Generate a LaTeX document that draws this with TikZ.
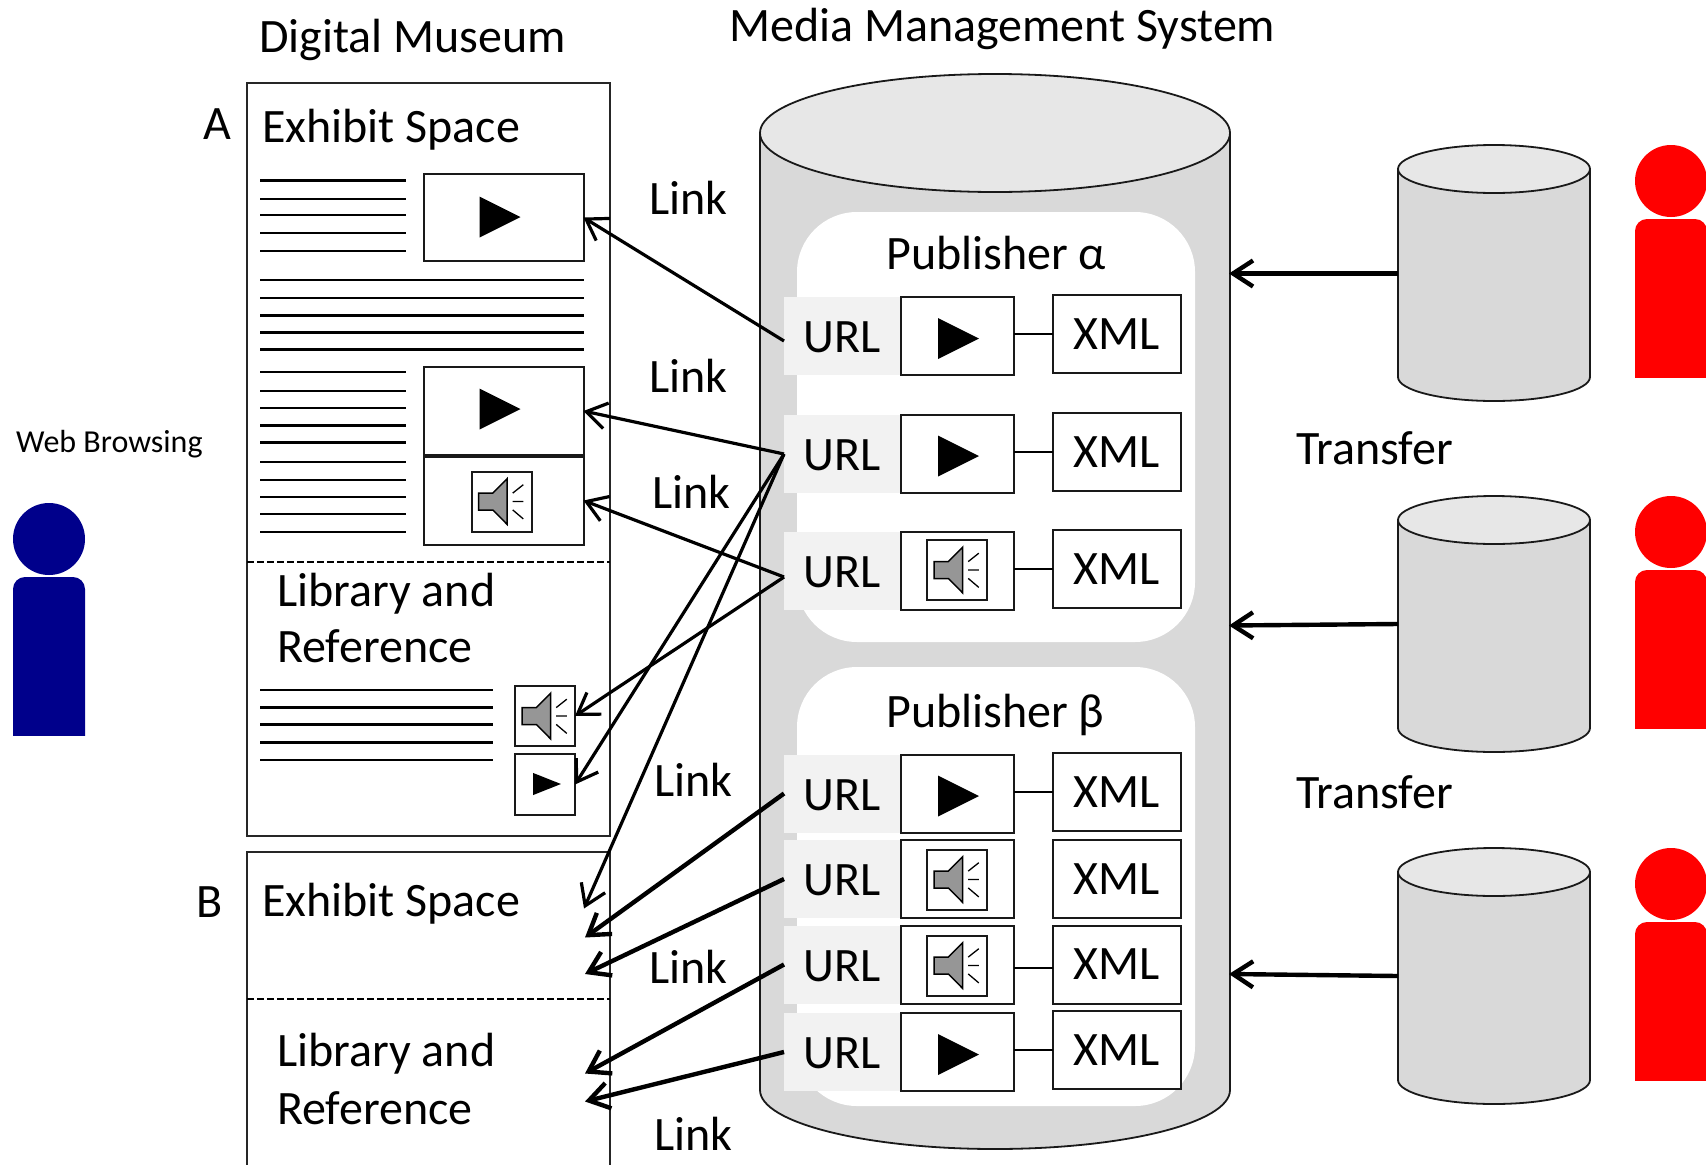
\documentclass[tikz,border=0pt]{standalone}
\usepackage{fontspec}
\setmainfont{Carlito}
\usepackage{xcolor}
\usetikzlibrary{arrows.meta}
\definecolor{drumbody}{RGB}{217,217,217}
\definecolor{drumtop}{RGB}{231,231,231}
\definecolor{urlcell}{RGB}{242,242,242}
\definecolor{speakergray}{RGB}{150,150,150}
\definecolor{visitorblue}{RGB}{0,0,139}

% cylinder: x, y of the left end of the top ellipse, height, radii
\newcommand{\drum}[5]{%
  \draw[drumline,fill=drumbody] (#1,#2) -- ++(0,#3) arc[start angle=180,end angle=0,x radius=#4,y radius=#5] -- ++(0,-#3) -- cycle;
  \draw[drumline,fill=drumtop] (#1+#4,#2) ellipse[x radius=#4,y radius=#5];
}

\tikzset{
  drumline/.style={line width=1.8pt,draw=black!90},
  txt/.style={font=\fontsize{48}{48}\selectfont,anchor=base west,inner sep=0pt},
  pagebox/.style={draw=black!85,line width=1.8pt,inner sep=0pt,outer sep=0pt,minimum width=363},
  mediabox/.style={draw=black!90,fill=white,line width=2pt,inner sep=0pt,outer sep=0pt},
  urlbox/.style={fill=urlcell,inner sep=0pt,outer sep=0pt,minimum width=116,minimum height=78,font=\fontsize{48}{48}\selectfont,text height=33pt,text depth=0pt},
  xmlbox/.style={mediabox,minimum width=128,minimum height=78,font=\fontsize{48}{48}\selectfont},
  panel/.style={fill=white,rounded corners=60pt},
  dashline/.style={line width=2pt,dash pattern=on 7pt off 3pt},
  textline/.style={line width=2.3pt},
  wire/.style={line width=2.2pt},
  linkarrow/.style={-{Straight Barb[length=20pt,width=26pt]},line width=3.2pt},
  heavyarrow/.style={-{Straight Barb[length=20pt,width=26pt]},line width=4.4pt},
  speaker/.pic={
    \draw[mediabox] (-30,-30) rectangle (30,30);
    \draw[line width=1.5pt,fill=speakergray] (-22.8,-8.5) -- (-8.6,-8.5) -- (5.6,-22.8) -- (5.6,22.8) -- (-8.6,8.5) -- (-22.8,8.5) -- cycle;
    \draw[line width=1.3pt] (11.2,-8.4) -- (21.8,-16.8) (11.2,0) -- (21.8,0) (11.2,8.4) -- (21.8,17.4);
  },
  playmark/.pic={\fill (-20.5,-20.5) -- (20.5,0) -- (-20.5,20.5) -- cycle;},
  person/.pic={
    \fill (0,0) circle[radius=36];
    \fill[rounded corners=12pt] (-36,240) -- (-36,38) -- (36,38) -- (36,240) -- cycle;
  }
}

\begin{document}
\begin{tikzpicture}[x=1pt,y=-1pt]
\path[use as bounding box,clip] (0,0) rectangle (1706,1165);

% Titles
\node[txt] (titleMuseum) at (259,52) {Digital Museum};
\node[txt] (titleMedia) at (729,41) {Media Management System};
\node[txt] (labelA) at (203,139) {A};
\node[txt] (labelB) at (196,917) {B};

% Visitor
\begin{scope}
\clip (0,500) rectangle (100,735.5);
\pic[visitorblue] at (49,539) {person};
\end{scope}
\node[txt,font=\fontsize{32}{32}\selectfont] (labelBrowsing) at (16,452) {Web Browsing};

% === Museum A ===
\node[pagebox,minimum height=753] (boxA) at (428.5,459.5) {};
\draw[dashline] (boxA.west |- 0,562) -- (boxA.east |- 0,562);
\node[txt] (spaceA) at (262,142) {Exhibit Space};
\node[txt] (libraryA) at (277,606) {Library and};
\node[txt] (referenceA) at (277,662) {Reference};
\foreach \y in {180.5,198.7,215.3,233,250.8,372,390.7,407.7,425.4,442.5,462,480,497,514,532}
    \draw[textline] (260,\y) -- (406,\y);
\foreach \y in {280,298,315.6,332.6,349.6}
    \draw[textline] (260,\y) -- (584,\y);
\foreach \y in {690,707.5,724.5,742.6,760}
    \draw[textline] (260,\y) -- (493,\y);
\node[mediabox,minimum width=160,minimum height=87] (videoOne) at (503.5,217.5) {};
\node[mediabox,minimum width=160,minimum height=88] (videoTwo) at (503.5,411) {};
\node[mediabox,minimum width=160,minimum height=88] (audioOne) at (503.5,500.5) {};
\pic at (500,217) {playmark};
\pic at (500,409) {playmark};
\pic at (501.5,501.5) {speaker};
\node[mediabox,minimum width=60,minimum height=60] (audioSmall) at (545,716) {};
\pic at (545,716) {speaker};
\node[mediabox,minimum width=60,minimum height=61] (videoSmall) at (545,784.5) {};
\pic[xscale=.68,yscale=.54] at (547,784) {playmark};

% === Museum B ===
\node[pagebox,minimum height=500] (boxB) at (428.5,1102) {};
\draw[dashline] (boxB.west |- 0,998.5) -- (boxB.east |- 0,998.5);
\node[txt] (spaceB) at (262,916) {Exhibit Space};
\node[txt] (libraryB) at (277,1066) {Library and};
\node[txt] (referenceB) at (277,1124) {Reference};
\coordinate (slotOne) at (584,908.5);
\coordinate (slotTwo) at (585,937.5);
\coordinate (slotThree) at (585,974);
\coordinate (slotFour) at (585,1073.5);
\coordinate (slotFive) at (585,1101.5);

% === Media management system ===
\drum{760}{133}{957}{235}{59}
\fill[panel] (797,212) rectangle (1195,642);
\fill[panel] (797,667) rectangle (1195,1106);
\node[txt] (publisherAlpha) at (886,269) {Publisher α};
\node[txt] (publisherBeta) at (886,727) {Publisher β};

\foreach \n/\m/\x in {a1/336/334,a2/454/452,a3/571/569,b1/793.5/792,b2/879/879,b3/964.5/964.5,b4/1052/1050} {
    \node[urlbox] (url\n) at (842,\m) {URL};
    \node[mediabox,minimum width=113,minimum height=78] (media\n) at (957,\m) {};
    \node[xmlbox] (xml\n) at (1117,\x) {XML};
}
\foreach \n/\s in {a1/0,a2/0,a3/0,b1/0,b3/-3.5,b4/0}
    \draw[wire] ([yshift=\s pt]xml\n.west) -- ([yshift=\s pt]xml\n.west -| mediaa1.east);

\pic at (958.5,338.5) {playmark};
\pic at (958.5,456) {playmark};
\pic at (958.5,796) {playmark};
\pic at (958.5,1054.5) {playmark};
\pic at (957,570) {speaker};
\pic at (957,879.5) {speaker};
\pic at (957,965.5) {speaker};

% === Providers ===
\foreach \n/\y/\b in {1/145/377.5,2/496/728.5,3/848/1080.5} {
    \drum{1398}{\y+24}{208}{96}{24}
    \begin{scope}
    \clip (1600,\y-5) rectangle (1706,\b);
    \pic[red] at (1671,\y+36) {person};
    \end{scope}
}
\coordinate (storeOne) at (1398,273.5);
\coordinate (storeTwo) at (1398,624);
\coordinate (storeThree) at (1398,976);
\coordinate (drumOne) at (1229,273.5);
\coordinate (drumTwo) at (1229,625.5);
\coordinate (drumThree) at (1229,974);
\node[txt] (transferOne) at (1296,464) {Transfer};
\node[txt] (transferTwo) at (1296,808) {Transfer};

% Arrows for transfer
\draw[heavyarrow] (storeOne) -- (drumOne);
\draw[heavyarrow] (storeTwo) -- (drumTwo);
\draw[heavyarrow] (storeThree) -- (drumThree);

% Links
\draw[linkarrow] ([yshift=-5pt]urla1.west) -- (videoOne.east);
\draw[linkarrow] (urla2.west) -- (videoTwo.east);
\draw[linkarrow] (urla2.west) -- (videoSmall.east);
\draw[linkarrow] (urla2.west) -- (slotOne);
\draw[linkarrow] ([yshift=-6pt]urla3.west) -- (audioOne.east);
\draw[linkarrow] ([yshift=-6pt]urla3.west) -- (audioSmall.east);
\draw[heavyarrow] (urlb1.west) -- (slotTwo);
\draw[heavyarrow] (urlb2.west) -- (slotThree);
\draw[heavyarrow] (urlb3.west) -- (slotFour);
\draw[heavyarrow] (urlb4.west) -- (slotFive);

\node[txt] (linkOne) at (649,214) {Link};
\node[txt] (linkTwo) at (649,392) {Link};
\node[txt] (linkThree) at (652,508) {Link};
\node[txt] (linkFour) at (654,796) {Link};
\node[txt] (linkFive) at (649,983) {Link};
\node[txt] (linkSix) at (654,1150) {Link};

\end{tikzpicture}
\end{document}
